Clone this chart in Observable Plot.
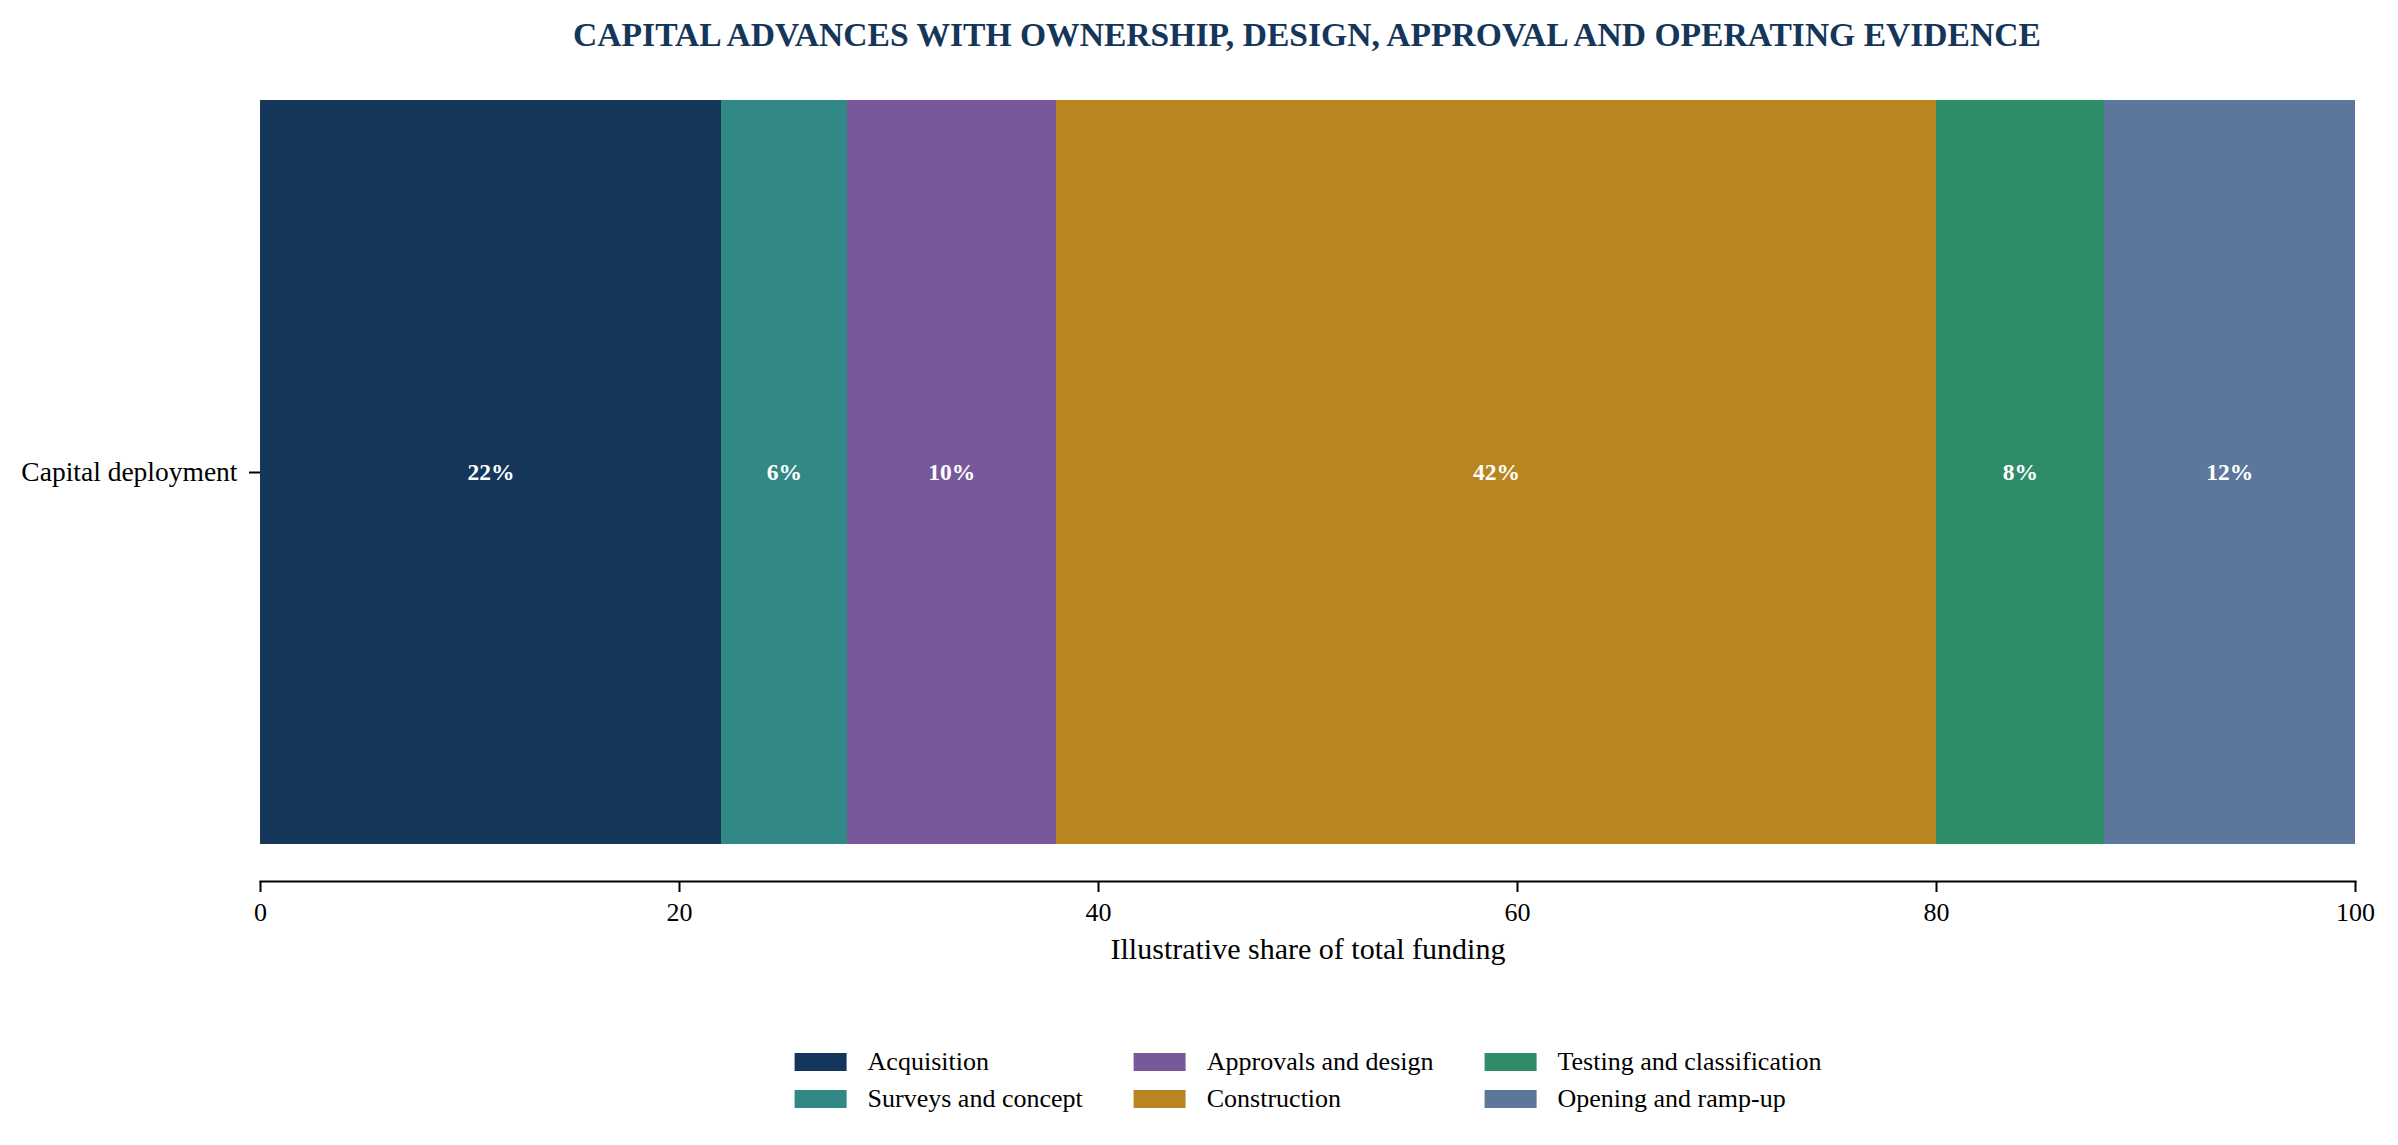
<!DOCTYPE html>
<html>
<head>
<meta charset="utf-8">
<script src="https://cdn.jsdelivr.net/npm/d3@7"></script>
<script src="https://cdn.jsdelivr.net/npm/@observablehq/plot@0.6"></script>
<style>
  html, body { margin: 0; padding: 0; background: #fff; }
  body { font-family: "Liberation Serif", "Times New Roman", serif; }
  #fig { position: relative; width: 2398px; height: 1145px; overflow: hidden; background: #fff; }
  #title { position: absolute; top: 18px; left: 1307px; transform: translateX(-50%); white-space: nowrap;
           font-size: 33.6px; line-height: 33.6px; font-weight: bold; color: #14365a; }
  #chart { position: absolute; top: 80px; left: 0; }
  #legend { position: absolute; top: 1043px; left: 1308px; transform: translateX(-50%);
            display: grid; grid-auto-flow: column; grid-template-rows: repeat(2, 37px); column-gap: 51px;
            font-size: 26px; color: #000; }
  .item { display: flex; align-items: center; white-space: nowrap; }
  .sw { width: 52px; height: 18px; margin-right: 21px; flex: none; }
</style>
</head>
<body>
<div id="fig">
  <div id="title"></div>
  <div id="chart"></div>
  <div id="legend"></div>
</div>
<script>
const titleText = "CAPITAL ADVANCES WITH OWNERSHIP, DESIGN, APPROVAL AND OPERATING EVIDENCE";
const groupLabel = "Capital deployment";
const stages = ["Acquisition", "Surveys and concept", "Approvals and design", "Construction", "Testing and classification", "Opening and ramp-up"];
const shares = [22, 6, 10, 42, 8, 12];
const colors = ["#14365a", "#318885", "#77599b", "#b78620", "#2f8c69", "#5c779b"];
const xTicks = [0, 20, 40, 60, 80, 100];
const xLabel = "Illustrative share of total funding";

const data = stages.map((s, i) => ({group: groupLabel, stage: s, value: shares[i]}));

document.getElementById("title").textContent = titleText;

const plot = Plot.plot({
  width: 2398,
  height: 930,
  marginLeft: 260,
  marginRight: 43,
  marginTop: 20,
  marginBottom: 129,
  style: {fontFamily: "Liberation Serif", fontSize: "26px", color: "#000", background: "#fff"},
  x: {domain: [0, 100]},
  y: {domain: [groupLabel], padding: 0, insetBottom: 37},
  color: {domain: stages, range: colors},
  marks: [
    Plot.barX(data, Plot.stackX({x: "value", y: "group", fill: "stage", shapeRendering: "crispEdges"})),
    Plot.text(data, Plot.stackX({x: "value", y: "group", text: d => d.value + "%", fill: "white", fontWeight: "bold", fontSize: 23.5})),
    Plot.frame({anchor: "bottom", strokeWidth: 2, stroke: "#000"}),
    Plot.axisX({ticks: xTicks, tickFormat: d => String(d), tickSize: 11, tickPadding: 10, fontSize: 26, strokeWidth: 2, label: null}),
    Plot.axisY({tickSize: 11, tickPadding: 12, fontSize: 27.5, strokeWidth: 2, label: null}),
    Plot.text([xLabel], {text: d => d, frameAnchor: "bottom", dy: 77, fontSize: 30, fill: "#000"})
  ]
});
document.getElementById("chart").appendChild(plot);

const legend = document.getElementById("legend");
stages.forEach((s, i) => {
  const item = document.createElement("div");
  item.className = "item";
  const sw = document.createElement("span");
  sw.className = "sw";
  sw.style.background = colors[i];
  const label = document.createElement("span");
  label.textContent = s;
  item.appendChild(sw);
  item.appendChild(label);
  legend.appendChild(item);
});
</script>
</body>
</html>
